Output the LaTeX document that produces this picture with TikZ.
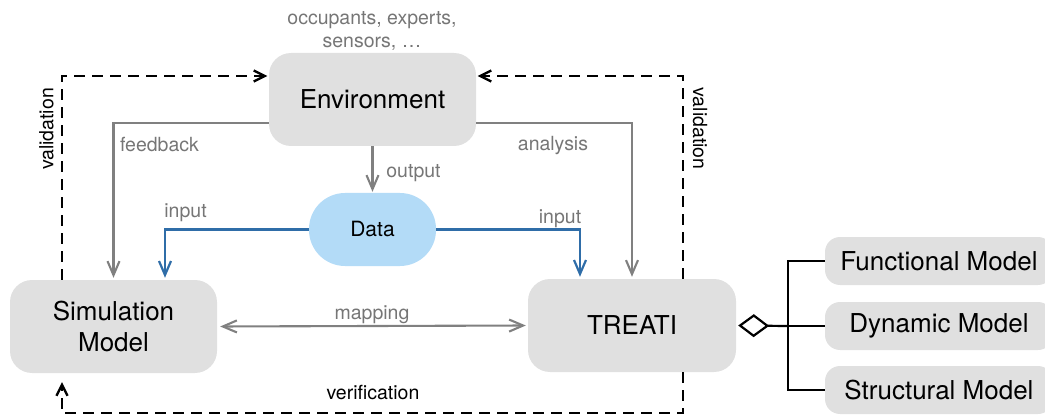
\documentclass[tikz,border=0pt]{standalone}
\usepackage{fontspec}
\setmainfont{TeX Gyre Heros}
\usetikzlibrary{arrows.meta,calc}
\definecolor{boxgray}{HTML}{E0E0E0}
\definecolor{linegray}{HTML}{808080}
\definecolor{labelgray}{HTML}{767676}
\definecolor{feedblue}{HTML}{2F6DA8}
\definecolor{datablue}{HTML}{B3DBF7}
\begin{document}
\begin{tikzpicture}[x=1pt,y=-1pt,
  box/.style={fill=boxgray, rounded corners=22pt, minimum width=207pt,
    minimum height=93pt, inner sep=0pt, align=center,
    font=\fontsize{26}{31}\selectfont},
  part/.style={fill=boxgray, rounded corners=15pt, minimum width=228pt,
    minimum height=48pt, inner sep=0pt, font=\fontsize{26}{31}\selectfont},
  gtip/.tip={Straight Barb[length=14pt,width=12pt,line width=2.1pt]},
  flow/.style={draw=linegray, line width=2.1pt, -{gtip}},
  feed/.style={draw=feedblue, line width=2.2pt,
    -{Straight Barb[length=14pt,width=12pt,line width=2.2pt]}},
  check/.style={draw=black, line width=2.4pt, dash pattern=on 11pt off 7pt,
    -{Straight Barb[length=11pt,width=11pt,line width=2.3pt]}},
  lbl/.style={text=labelgray, font=\fontsize{19.5}{23.5}\selectfont,
    inner sep=0pt, anchor=base},
  blbl/.style={text=black, font=\fontsize{19.5}{23.5}\selectfont, inner sep=0pt},
]
\useasboundingbox (0,0) rectangle (1045,417);

% main blocks
\node[box] (env) at (372.5,99.5) {Environment};
\node[box] (sim) at (113.5,326.5) {Simulation\\Model};
\node[box, minimum width=208pt] (treati) at (632,325.5) {TREATI};
\node[fill=datablue, rounded corners=36pt, minimum width=127pt,
  minimum height=73pt, inner sep=0pt, font=\fontsize{21}{25}\selectfont]
  (data) at (372.5,229.5) {Data};

% parts of TREATI
\node[part] (fm) at (939,261) {Functional Model};
\node[part] (dm) at (939,326) {Dynamic Model};
\node[part] (sm) at (939,390) {Structural Model};

% sources of the environment
\node[text=labelgray, font=\fontsize{19.5}{23.5}\selectfont, align=center,
  inner sep=0pt, anchor=base] (src) at (372,48) {occupants, experts,\\sensors, …};

% routing points of the dashed loops
\coordinate (lv) at (62,76);
\coordinate (rv) at (683,76);
\coordinate (lb) at (62,413);
\coordinate (rb) at (683,413);
\coordinate (bus) at (788,326);

% grey information flows
\draw[flow, shorten >=1pt] (env.south) -- (data.north);
\draw[flow, shorten >=2pt] ($(env.west)+(0,23.5)$) -| (sim.north);
\draw[flow, shorten >=2pt] ($(env.east)+(0,23.5)$) -| (treati.north);
\draw[draw=linegray, line width=2.1pt, {gtip}-{gtip},
  shorten <=3pt, shorten >=2pt] (sim.east) -- (treati.west);

% data inputs
\draw[feed, shorten >=2pt] (data.west) -| ($(sim.north)+(51.5,0)$);
\draw[feed, shorten >=2pt] (data.east) -| ($(treati.north)+(-52,0)$);

% validation and verification loops
\draw[check, shorten >=1.5pt] (sim.north -| lv) -- (lv) -- (lv -| env.west);
\draw[check, shorten >=1.5pt] (treati.north -| rv) -- (rv) -- (rv -| env.east);
\draw[check, shorten >=9pt] (treati.south -| rv) -- (rb) -- (lb) -- (sim.south -| lb);

% aggregation of the models
\draw[line width=2.2pt, {Diamond[open,length=31pt,width=23pt,line width=2.2pt]}-,
  shorten <=2pt] (treati.east) -- (bus);
\draw[line width=2.2pt] (fm.west) -- (fm.west -| bus) -- (sm.west -| bus) -- (sm.west);
\draw[line width=2.2pt] (bus) -- (dm.west);

% labels
\node[lbl] (lfeed) at (159.5,152) {feedback};
\node[lbl] (lana) at (553,151) {analysis};
\node[lbl] (lout) at (413.5,178) {output};
\node[lbl] (lin1) at (185.5,218) {input};
\node[lbl] (lin2) at (560,224) {input};
\node[lbl] (lmap) at (372,319) {mapping};
\node[blbl, anchor=base] (lver) at (373,399) {verification};
\node[blbl, rotate=90] (lval1) at (46.5,129) {validation};
\node[blbl, rotate=-90] (lval2) at (700,128.5) {validation};
\end{tikzpicture}
\end{document}
